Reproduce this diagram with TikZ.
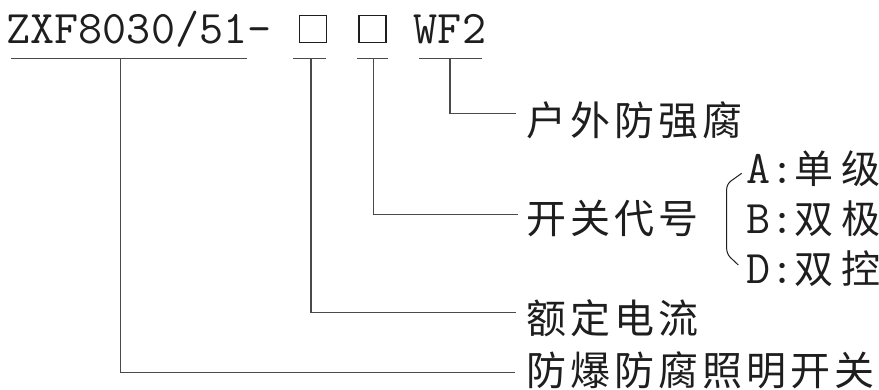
\documentclass[tikz,border=0pt]{standalone}
\usepackage{fontspec}
\newfontfamily\cjkls[LetterSpace=10]{Noto Sans CJK SC}
\newfontfamily\cjklist[LetterSpace=20]{Noto Sans CJK SC}
\definecolor{txt}{HTML}{1E1E1E}
\definecolor{ln}{HTML}{4A4A4A}
\begin{document}
\begin{tikzpicture}[x=1pt,y=-1pt,
  lbl/.style={anchor=west,inner sep=0pt,font=\cjkls\fontsize{40}{44}\selectfont,text=txt},
  code/.style={inner sep=0pt,font=\ttfamily\fontsize{46.7}{50}\selectfont,text=txt},
  opt/.style={anchor=base west,inner sep=0pt,text=txt},
  conn/.style={draw=ln,line width=1.3pt},
  box/.style={draw=txt,line width=1.5pt,minimum size=27pt,inner sep=0pt}]
\useasboundingbox[fill=white] (0,0) rectangle (879,389);

% model code
\node[code,anchor=base west] (model) at (6.5,43) {ZXF8030/51-};
\node[box] (b1) at (313,29.2) {};
\node[box] (b2) at (372.5,29.2) {};
\node[code,anchor=base] (wf) at (450,43) {WF2};

% underlines
\draw[conn] (11,58.3) -- (247,58.3);
\draw[conn] (293,58.3) -- (326,58.3);
\draw[conn] (357,58.3) -- (388,58.3);
\draw[conn] (419,58.3) -- (482,58.3);

% connector start points
\coordinate (u1) at (120.7,58.3);
\coordinate (u2) at (311,58.3);
\coordinate (u3) at (373.3,58.3);
\coordinate (u4) at (450,58.3);

% labels
\node[lbl] (t1) at (526,120.5) {户外防强腐};
\node[lbl] (t2) at (526,218.5) {开关代号};
\node[lbl] (t3) at (526,318) {额定电流};
\node[lbl] (t4) at (526,370) {防爆防腐照明开关};

% connector end points
\coordinate (e1) at (516,113.3);
\coordinate (e2) at (518,214.5);
\coordinate (e3) at (516,312.3);
\coordinate (e4) at (515,372.3);

\draw[conn] (u4) |- (e1);
\draw[conn] (u3) |- (e2);
\draw[conn] (u2) |- (e3);
\draw[conn] (u1) |- (e4);

% options
\node[opt] (oa) at (746,183) {{\ttfamily\fontsize{46.7}{50}\selectfont A:}{\cjklist\fontsize{39}{44}\selectfont 单级}};
\node[opt] (ob) at (746,233) {{\ttfamily\fontsize{46.7}{50}\selectfont B:}{\cjklist\fontsize{39}{44}\selectfont 双极}};
\node[opt] (od) at (746,283) {{\ttfamily\fontsize{46.7}{50}\selectfont D:}{\cjklist\fontsize{39}{44}\selectfont 双控}};

% bracket
\draw[draw=txt,line width=1pt,rounded corners=5pt] (741.7,173.3) -- (726.7,184) -- (726.7,254) -- (738.3,265);
\end{tikzpicture}
\end{document}
